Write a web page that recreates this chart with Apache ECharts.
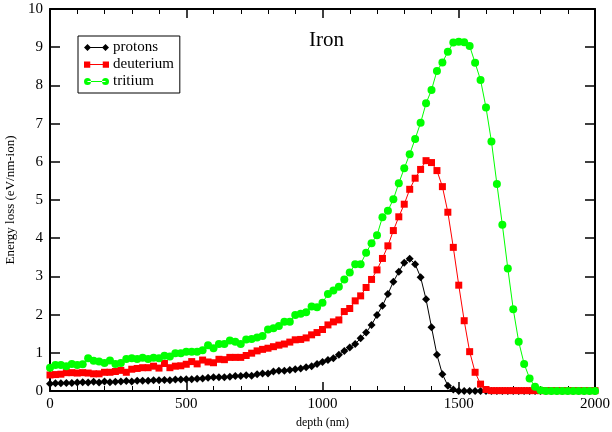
<!DOCTYPE html>
<html>
<head>
<meta charset="utf-8">
<script src="https://cdn.jsdelivr.net/npm/echarts@6/dist/echarts.min.js"></script>
<style>
  html, body { margin: 0; padding: 0; background: #fff; }
  #chart { width: 612px; height: 432px; }
</style>
</head>
<body>
<div id="chart"></div>
<script>
// depth grid (nm)
const depth = [
  0, 20, 40, 60, 80, 100, 120, 140, 160, 180, 200, 220, 240, 260, 280, 300, 320, 340, 360, 380,
  400, 420, 440, 460, 480, 500, 520, 540, 560, 580, 600, 620, 640, 660, 680, 700, 720, 740, 760, 780,
  800, 820, 840, 860, 880, 900, 920, 940, 960, 980, 1000, 1020, 1040, 1060, 1080, 1100, 1120, 1140, 1160, 1180,
  1200, 1220, 1240, 1260, 1280, 1300, 1320, 1340, 1360, 1380, 1400, 1420, 1440, 1460, 1480, 1500, 1520, 1540, 1560, 1580,
  1600, 1620, 1640, 1660, 1680, 1700, 1720, 1740, 1760, 1780, 1800, 1820, 1840, 1860, 1880, 1900, 1920, 1940, 1960, 1980,
  2000
];

const protons = [
  0.19, 0.20, 0.20, 0.21, 0.21, 0.22, 0.23, 0.22, 0.24, 0.22, 0.25, 0.23, 0.24, 0.25, 0.26, 0.25, 0.27, 0.27, 0.27, 0.28,
  0.28, 0.29, 0.28, 0.30, 0.30, 0.31, 0.31, 0.32, 0.33, 0.35, 0.36, 0.36, 0.36, 0.37, 0.39, 0.39, 0.41, 0.40, 0.44, 0.46,
  0.46, 0.51, 0.53, 0.53, 0.55, 0.57, 0.59, 0.62, 0.65, 0.71, 0.76, 0.81, 0.86, 0.95, 1.05, 1.14, 1.23, 1.38, 1.53, 1.73,
  1.99, 2.23, 2.54, 2.86, 3.12, 3.36, 3.46, 3.32, 2.98, 2.40, 1.67, 0.95, 0.44, 0.14, 0.04, 0, 0, 0, 0, 0,
  0, 0, 0, 0, 0, 0, 0, 0, 0, 0, 0, 0, 0, 0, 0, 0, 0, 0, 0, 0,
  0
];

const deuterium = [
  0.42, 0.43, 0.44, 0.48, 0.48, 0.47, 0.48, 0.47, 0.45, 0.45, 0.49, 0.49, 0.51, 0.54, 0.49, 0.57, 0.59, 0.61, 0.61, 0.65,
  0.60, 0.72, 0.61, 0.65, 0.66, 0.70, 0.77, 0.71, 0.81, 0.76, 0.74, 0.83, 0.82, 0.88, 0.88, 0.88, 0.93, 0.99, 1.05, 1.09,
  1.12, 1.16, 1.20, 1.23, 1.28, 1.34, 1.35, 1.39, 1.47, 1.53, 1.61, 1.73, 1.81, 1.86, 2.08, 2.16, 2.36, 2.49, 2.71, 2.92,
  3.17, 3.47, 3.80, 4.20, 4.56, 4.89, 5.28, 5.57, 5.80, 6.03, 5.98, 5.77, 5.35, 4.68, 3.76, 2.77, 1.84, 1.03, 0.49, 0.18,
  0.04, 0.01, 0.01, 0.01, 0.01, 0.01, 0.01, 0.01, 0.01, 0.01, 0.01, 0.01, 0.01, 0.01, 0.01, 0.01, 0.01, 0.01, 0.01, 0.01,
  0.01
];

const tritium = [
  0.61, 0.68, 0.68, 0.65, 0.71, 0.68, 0.70, 0.86, 0.79, 0.77, 0.73, 0.80, 0.71, 0.73, 0.84, 0.86, 0.84, 0.87, 0.84, 0.87,
  0.86, 0.92, 0.90, 0.99, 0.99, 1.03, 1.03, 1.03, 1.07, 1.20, 1.12, 1.23, 1.23, 1.32, 1.29, 1.23, 1.35, 1.36, 1.40, 1.44,
  1.61, 1.64, 1.70, 1.81, 1.81, 1.99, 2.02, 2.06, 2.21, 2.19, 2.31, 2.54, 2.63, 2.73, 2.92, 3.10, 3.32, 3.32, 3.62, 3.87,
  4.08, 4.55, 4.72, 5.02, 5.44, 5.83, 6.20, 6.60, 7.02, 7.53, 7.88, 8.38, 8.60, 8.88, 9.12, 9.14, 9.13, 9.03, 8.59, 8.14,
  7.42, 6.53, 5.42, 4.35, 3.21, 2.14, 1.29, 0.71, 0.33, 0.11, 0.02, 0, 0, 0, 0, 0, 0, 0, 0, 0,
  0
];

const seriesNames = ['protons', 'deuterium', 'tritium'];
const seriesColors = ['#000000', '#ff0000', '#00ff00'];

const serif = '"Liberation Serif", "DejaVu Serif", serif';

// legend icons: line with a marker at each end
const icons = [
  'path://M0,3.5 L3.5,0 L7,3.5 L3.5,7 Z M18,3.5 L21.5,0 L25,3.5 L21.5,7 Z M3.5,3 L21.5,3 L21.5,4 L3.5,4 Z',
  'path://M0.5,0.5 L6.5,0.5 L6.5,6.5 L0.5,6.5 Z M18.5,0.5 L24.5,0.5 L24.5,6.5 L18.5,6.5 Z M6.5,3 L18.5,3 L18.5,4 L6.5,4 Z',
  'path://M0,3.5 A3.5,3.5 0 1,0 7,3.5 A3.5,3.5 0 1,0 0,3.5 Z M18,3.5 A3.5,3.5 0 1,0 25,3.5 A3.5,3.5 0 1,0 18,3.5 Z M3.5,3 L21.5,3 L21.5,4 L3.5,4 Z'
];

function pairs(values) {
  return depth.map((d, i) => [d, values[i]]);
}

const chart = echarts.init(document.getElementById('chart'));

const axisLine = { show: true, onZero: false, lineStyle: { color: '#000', width: 2 } };

chart.setOption({
  animation: false,
  backgroundColor: '#fff',
  title: {
    text: 'Iron',
    left: 304,
    top: 25,
    textStyle: { fontFamily: serif, fontSize: 21, fontWeight: 'normal', color: '#000' }
  },
  legend: {
    orient: 'vertical',
    left: 78,
    top: 36,
    padding: [4, 6, 4, 6],
    itemGap: 2,
    itemWidth: 25,
    itemHeight: 7,
    borderColor: '#000',
    borderWidth: 1,
    data: seriesNames.map((n, i) => ({ name: n, icon: icons[i] })),
    textStyle: { fontFamily: serif, fontSize: 15, color: '#000', lineHeight: 15, padding: [0, 0, 0, -1] }
  },
  grid: { left: 50, right: 17, top: 9, bottom: 41, containLabel: false, outerBoundsMode: 'none' },
  xAxis: [
    {
      type: 'value', min: 0, max: 2000, interval: 500,
      name: 'depth (nm)', nameLocation: 'middle', nameGap: 23,
      nameTextStyle: { fontFamily: serif, fontSize: 12, color: '#000' },
      axisLine: axisLine,
      axisTick: { inside: true, length: 9, lineStyle: { color: '#000', width: 1.5 } },
      minorTick: { show: true, splitNumber: 5, length: 5, lineStyle: { color: '#000', width: 1 } },
      axisLabel: { fontFamily: serif, fontSize: 15, color: '#000', margin: 6, formatter: v => String(v) },
      splitLine: { show: false }
    },
    {
      type: 'value', min: 0, max: 2000, interval: 500, position: 'top',
      axisLine: axisLine,
      axisTick: { inside: true, length: 9, lineStyle: { color: '#000', width: 1.5 } },
      minorTick: { show: true, splitNumber: 5, length: 5, lineStyle: { color: '#000', width: 1 } },
      axisLabel: { show: false },
      splitLine: { show: false }
    }
  ],
  yAxis: [
    {
      type: 'value', min: 0, max: 10, interval: 1,
      name: 'Energy loss (eV/nm-ion)', nameLocation: 'middle', nameGap: 33,
      nameTextStyle: { fontFamily: serif, fontSize: 13, color: '#000' },
      axisLine: axisLine,
      axisTick: { inside: true, length: 10, lineStyle: { color: '#000', width: 1.5 } },
      axisLabel: { fontFamily: serif, fontSize: 15, color: '#000', margin: 7 },
      splitLine: { show: false }
    },
    {
      type: 'value', min: 0, max: 10, interval: 1, position: 'right',
      axisLine: axisLine,
      axisTick: { inside: true, length: 10, lineStyle: { color: '#000', width: 1.5 } },
      axisLabel: { show: false },
      splitLine: { show: false }
    }
  ],
  series: [
    {
      name: 'protons', type: 'line', data: pairs(protons),
      symbol: 'diamond', symbolSize: 8, clip: false,
      itemStyle: { color: seriesColors[0] },
      lineStyle: { color: seriesColors[0], width: 1 }
    },
    {
      name: 'deuterium', type: 'line', data: pairs(deuterium),
      symbol: 'rect', symbolSize: 7, clip: false,
      itemStyle: { color: seriesColors[1] },
      lineStyle: { color: seriesColors[1], width: 1 }
    },
    {
      name: 'tritium', type: 'line', data: pairs(tritium),
      symbol: 'circle', symbolSize: 8, clip: false,
      itemStyle: { color: seriesColors[2] },
      lineStyle: { color: seriesColors[2], width: 1 }
    }
  ]
});
</script>
</body>
</html>
